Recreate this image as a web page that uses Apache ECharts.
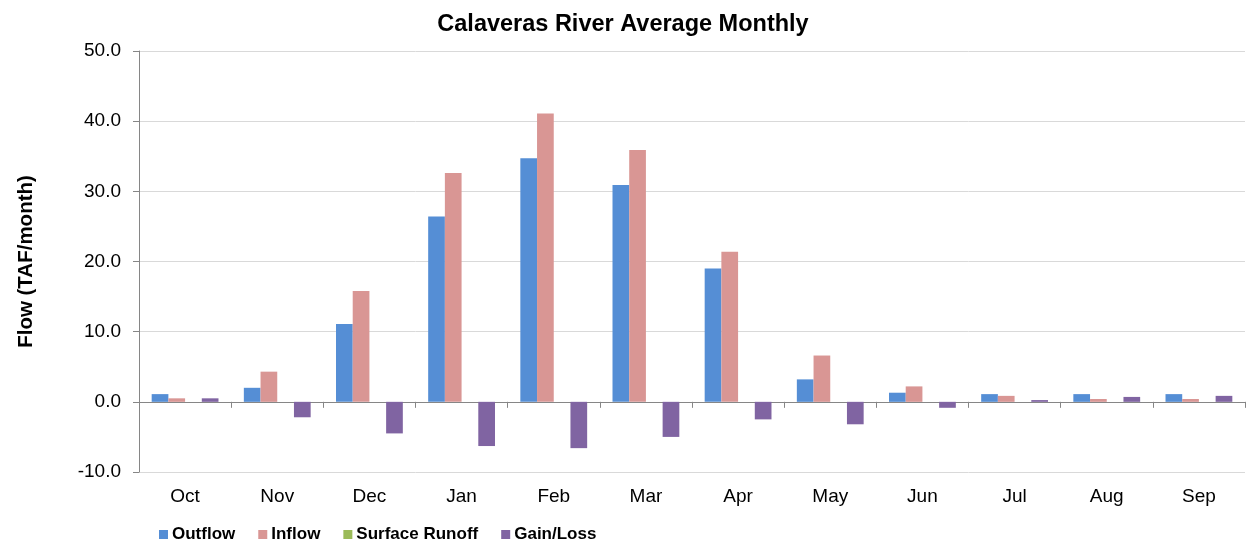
<!DOCTYPE html>
<html>
<head>
<meta charset="utf-8">
<script src="https://cdn.jsdelivr.net/npm/echarts@6/dist/echarts.min.js"></script>
<style>
html,body{margin:0;padding:0;background:#fff;}
#chart{width:1246px;height:542px;}
</style>
</head>
<body>
<div id="chart"></div>
<script>
var months = ['Oct','Nov','Dec','Jan','Feb','Mar','Apr','May','Jun','Jul','Aug','Sep'];
var outflow = [1.1, 2.0, 11.1, 26.4, 34.7, 30.9, 19.0, 3.2, 1.3, 1.1, 1.1, 1.1];
var inflow = [0.5, 4.3, 15.8, 32.6, 41.1, 35.9, 21.4, 6.6, 2.2, 0.85, 0.4, 0.4];
var surfaceRunoff = [0, 0, 0, 0, 0, 0, 0, 0, 0, 0, 0, 0];
var gainLoss = [0.5, -2.2, -4.5, -6.3, -6.6, -5.0, -2.5, -3.2, -0.85, 0.25, 0.7, 0.85];
var yTicks = {min: -10, max: 50, interval: 10};

var chart = echarts.init(document.getElementById('chart'), null, {renderer: 'canvas'});
var font = 'Liberation Sans, Arial, sans-serif';
function bar(name, data, color) {
  return {
    name: name, type: 'bar', data: data,
    barGap: '0%', barCategoryGap: '27.5%',
    itemStyle: {color: color},
    emphasis: {disabled: true}
  };
}
chart.setOption({
  animation: false,
  textStyle: {fontFamily: font},
  title: {
    text: 'Calaveras River Average Monthly',
    left: 'center', top: 8,
    textStyle: {fontFamily: font, fontSize: 23.5, fontWeight: 'bold', color: '#000'}
  },
  legend: {
    left: 154, top: 521,
    icon: 'rect', itemWidth: 9, itemHeight: 9, itemGap: 23,
    textStyle: {fontFamily: font, fontSize: 17, fontWeight: 'bold', color: '#000', padding: [0, 0, 0, -1]},
    data: ['Outflow', 'Inflow', 'Surface Runoff', 'Gain/Loss']
  },
  grid: {left: 139, right: 1, top: 51, bottom: 70, containLabel: false, outerBoundsMode: 'none'},
  xAxis: {
    type: 'category', data: months,
    axisLine: {onZero: true, lineStyle: {color: '#868686', width: 1}},
    axisTick: {show: true, length: 6, lineStyle: {color: '#868686'}, alignWithLabel: false},
    axisLabel: {margin: 15, fontSize: 19, color: '#000', fontFamily: font},
    splitLine: {show: false}
  },
  yAxis: {
    type: 'value', min: yTicks.min, max: yTicks.max, interval: yTicks.interval,
    name: 'Flow (TAF/month)', nameLocation: 'middle', nameGap: 102,
    nameTextStyle: {fontFamily: font, fontSize: 20.5, fontWeight: 'bold', color: '#000'},
    axisLine: {show: true, lineStyle: {color: '#868686'}},
    axisTick: {show: true, length: 6, lineStyle: {color: '#868686'}},
    axisLabel: {margin: 18, fontSize: 19, color: '#000', fontFamily: font,
      formatter: function (v) { return v.toFixed(1); }},
    splitLine: {show: true, lineStyle: {color: '#d9d9d9', width: 1}}
  },
  series: [
    bar('Outflow', outflow, '#558ed5'),
    bar('Inflow', inflow, '#d99694'),
    bar('Surface Runoff', surfaceRunoff, '#9bbb59'),
    bar('Gain/Loss', gainLoss, '#8064a2')
  ]
});
</script>
</body>
</html>
